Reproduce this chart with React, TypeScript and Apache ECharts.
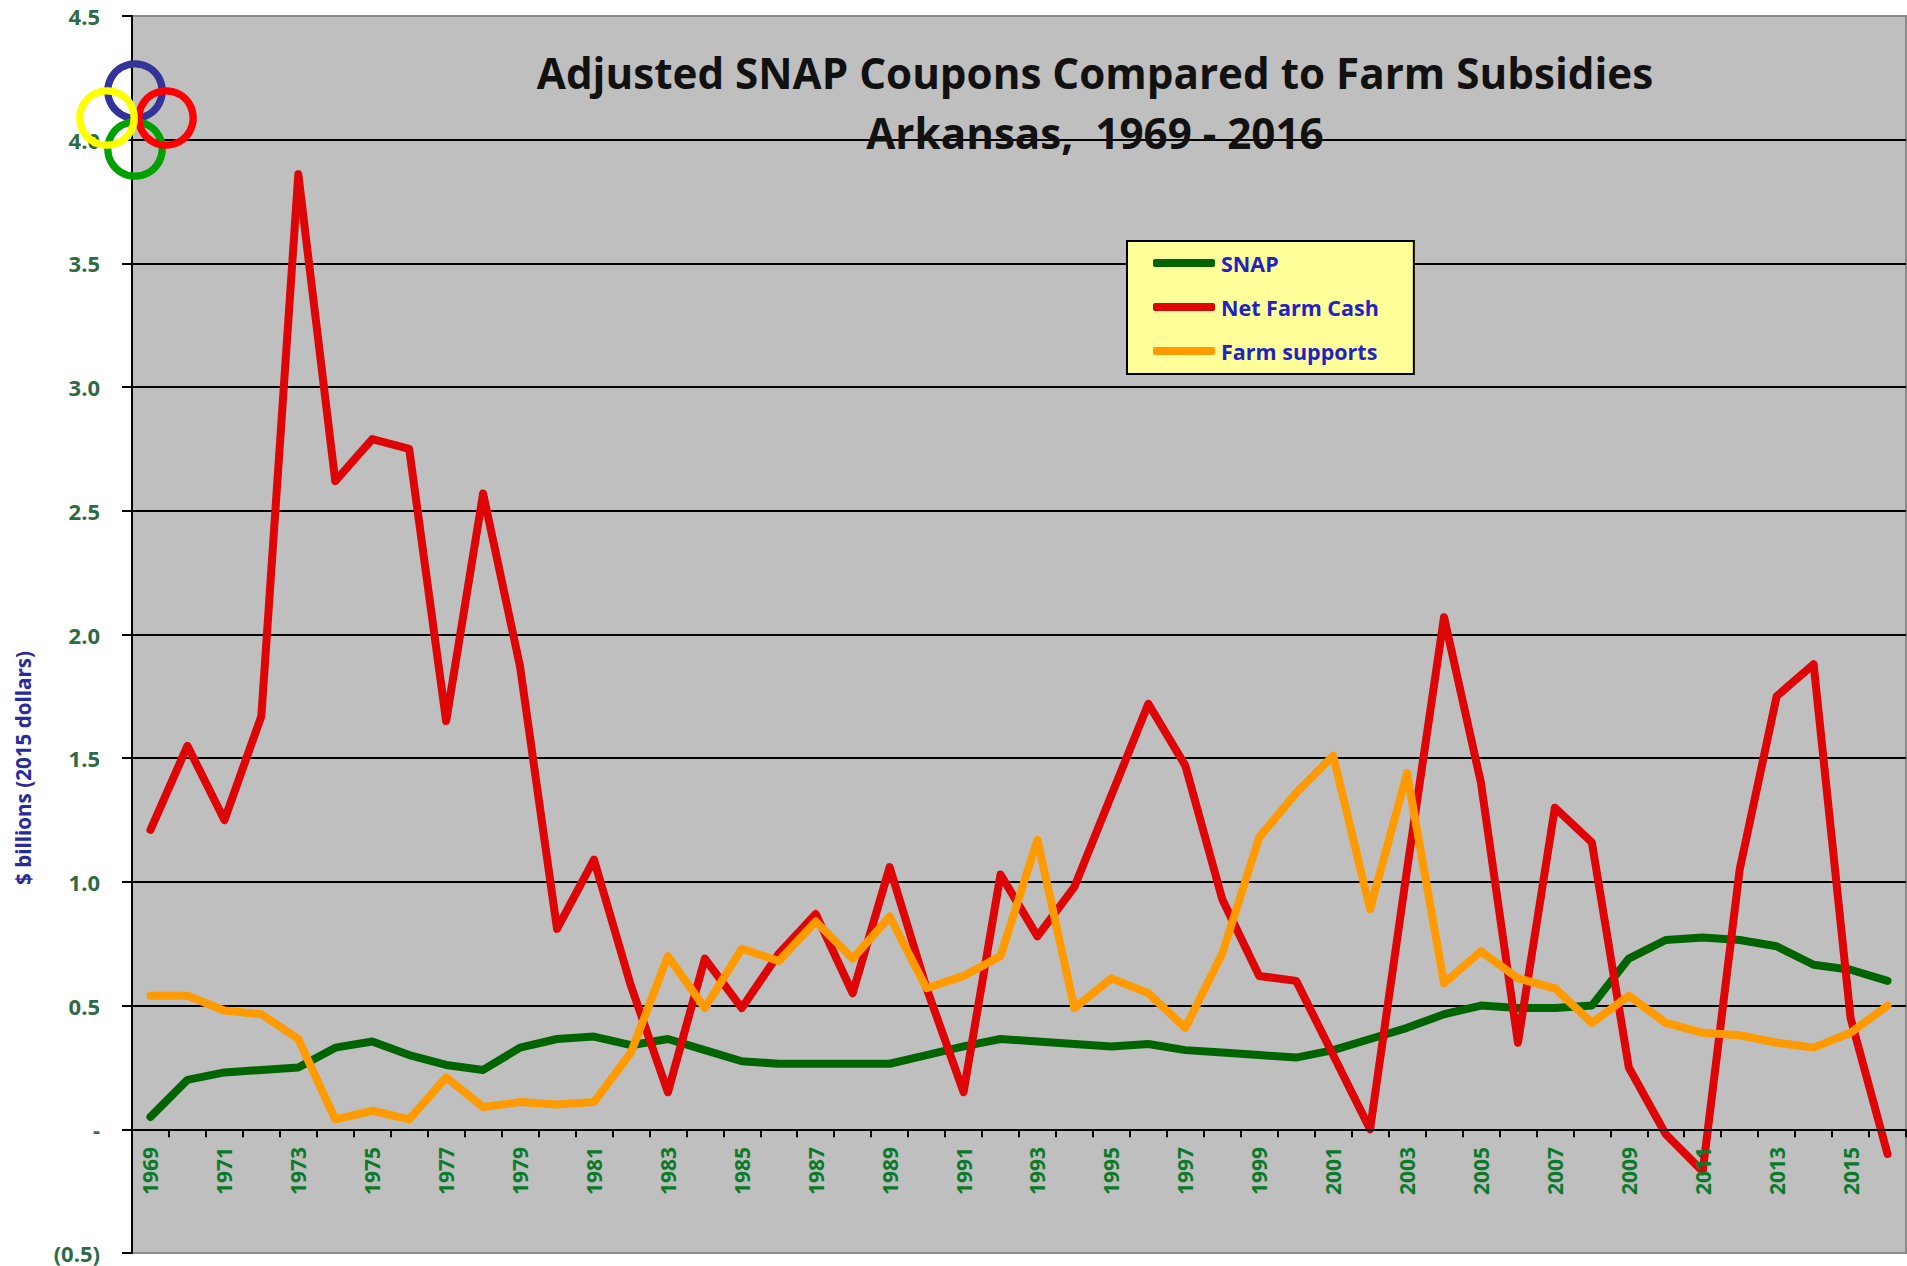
import React, { useEffect, useRef } from "react";
import * as echarts from "echarts";

const years = ["1969","1970","1971","1972","1973","1974","1975","1976","1977","1978","1979","1980","1981","1982","1983","1984","1985","1986","1987","1988","1989","1990","1991","1992","1993","1994","1995","1996","1997","1998","1999","2000","2001","2002","2003","2004","2005","2006","2007","2008","2009","2010","2011","2012","2013","2014","2015","2016"];
const snap = [0.05,0.20,0.23,0.24,0.25,0.33,0.355,0.30,0.26,0.24,0.33,0.365,0.375,0.34,0.365,0.32,0.275,0.265,0.265,0.265,0.265,0.30,0.335,0.365,0.355,0.345,0.335,0.345,0.32,0.31,0.30,0.29,0.32,0.365,0.41,0.465,0.50,0.49,0.49,0.50,0.69,0.765,0.775,0.765,0.74,0.665,0.645,0.60];
const netFarmCash = [1.21,1.55,1.25,1.67,3.86,2.62,2.79,2.75,1.65,2.57,1.87,0.81,1.09,0.58,0.15,0.69,0.49,0.71,0.87,0.55,1.06,0.57,0.15,1.03,0.78,0.98,1.35,1.72,1.47,0.93,0.62,0.60,0.30,0.0,1.05,2.07,1.40,0.35,1.30,1.16,0.25,-0.02,-0.17,1.05,1.75,1.88,0.45,-0.10];
const farmSupports = [0.54,0.54,0.48,0.465,0.365,0.04,0.075,0.04,0.21,0.09,0.11,0.10,0.11,0.31,0.70,0.49,0.73,0.68,0.84,0.69,0.86,0.57,0.62,0.70,1.17,0.49,0.61,0.55,0.41,0.71,1.18,1.36,1.51,0.89,1.44,0.59,0.72,0.61,0.57,0.43,0.54,0.43,0.39,0.38,0.35,0.33,0.39,0.50];
const titleLines = ["Adjusted SNAP Coupons Compared to Farm Subsidies", "Arkansas,  1969 - 2016"];
const yAxisTitle = "$ billions (2015 dollars)";
const rings = [
  { color: "#333399", cx: 135, cy: 91 },
  { color: "#00a000", cx: 135, cy: 149 },
  { color: "#ff0000", cx: 166, cy: 118 },
  { color: "#ffff00", cx: 107, cy: 118 },
];

const fontFamily = "'Open Sans', 'DejaVu Sans', sans-serif";

function line(name: string, data: number[], color: string) {
  return {
    name,
    type: "line",
    data,
    showSymbol: false,
    symbol: "none",
    smooth: false,
    z: 3,
    lineStyle: { color, width: 8, cap: "round", join: "round" },
    itemStyle: { color },
  };
}

export default function App() {
  const ref = useRef<HTMLDivElement>(null);
  useEffect(() => {
    document.body.style.margin = "0";
    const chart = echarts.init(ref.current!, undefined, { renderer: "svg" });
    chart.setOption({
      animation: false,
      backgroundColor: "#ffffff",
      grid: {
        left: 132,
        top: 16,
        right: 1,
        bottom: 13,
        outerBoundsMode: "none",
        show: true,
        backgroundColor: "#bfbfbf",
        borderColor: "#8a8a8a",
        borderWidth: 2,
      },
      legend: {
        show: true,
        orient: "vertical",
        left: 1127,
        top: 241,
        padding: [11, 35, 12, 26],
        backgroundColor: "#ffff99",
        borderColor: "#000000",
        borderWidth: 2,
        itemWidth: 62,
        itemHeight: 8,
        itemGap: 22,
        icon: "roundRect",
        textStyle: { color: "#2222c4", fontFamily, fontWeight: "bold", fontSize: 21.5, padding: [0, 0, 0, 1] },
        data: ["SNAP", "Net Farm Cash", "Farm supports"],
      },
      xAxis: {
        type: "category",
        data: years,
        boundaryGap: true,
        z: 4,
        axisLine: { show: true, onZero: true, lineStyle: { color: "#000000", width: 2 } },
        axisTick: { show: true, interval: 0, length: 8, lineStyle: { color: "#000000", width: 2 } },
        axisLabel: {
          show: true,
          interval: 1,
          rotate: 90,
          margin: -106,
          color: "#0b7a2a",
          fontFamily,
          fontWeight: "bold",
          fontSize: 21,
        },
        splitLine: { show: false },
      },
      yAxis: {
        type: "value",
        min: -0.5,
        max: 4.5,
        interval: 0.5,
        axisLine: { show: true, lineStyle: { color: "#000000", width: 2 } },
        axisTick: { show: true, length: 10, lineStyle: { color: "#000000", width: 2 } },
        axisLabel: {
          margin: 32,
          color: "#2e6b45",
          fontFamily,
          fontWeight: "bold",
          fontSize: 22,
          lineHeight: 22,
          formatter: (v: number) => (v === 0 ? "-" : v < 0 ? `(${Math.abs(v).toFixed(1)})` : v.toFixed(1)),
        },
        splitLine: { show: true, showMinLine: false, showMaxLine: false, lineStyle: { color: "#000000", width: 2 } },
      },
      series: [
        line("SNAP", snap, "#006400"),
        line("Net Farm Cash", netFarmCash, "#dd0505"),
        line("Farm supports", farmSupports, "#ff9a00"),
      ],
      graphic: [
        ...titleLines.map((text, i) => ({
          type: "text",
          x: 1095,
          y: 72 + i * 60,
          z: 50,
          style: { text, fill: "#111111", font: `bold 42.2px ${fontFamily}`, textAlign: "center", textVerticalAlign: "middle" },
        })),
        {
          type: "text",
          x: 23,
          y: 768,
          rotation: Math.PI / 2,
          z: 50,
          style: { text: yAxisTitle, fill: "#2a2a9c", font: `bold 20.6px ${fontFamily}`, textAlign: "center", textVerticalAlign: "middle" },
        },
        ...rings.map((r) => ({
          type: "circle",
          z: 60,
          shape: { cx: r.cx, cy: r.cy, r: 27.2 },
          style: { fill: "none", stroke: r.color, lineWidth: 7.3 },
        })),
      ],
    });
    return () => chart.dispose();
  }, []);
  return <div ref={ref} style={{ width: 1907, height: 1266 }} />;
}
